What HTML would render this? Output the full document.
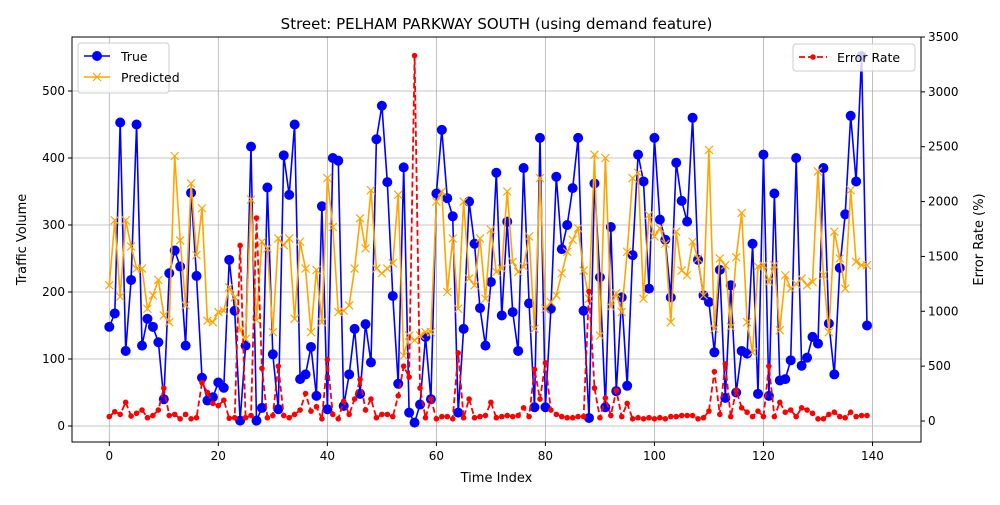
<!DOCTYPE html>
<html><head><meta charset="utf-8"><style>
body{margin:0;background:#fff;font-family:"Liberation Sans","DejaVu Sans",sans-serif;}
svg text{font-family:"DejaVu Sans","Liberation Sans",sans-serif;}
</style></head><body>
<svg id="chart" width="1000" height="500" xmlns="http://www.w3.org/2000/svg"></svg>
<script>
const trueVals=[148,168,453,112,218,450,120,160,148,125,40,228,262,238,120,348,224,72,38,43,65,57,248,172,8,120,417,8,27,356,107,25,404,345,450,70,77,118,45,328,25,400,396,30,77,145,48,152,95,428,478,364,194,63,386,20,5,32,133,40,347,442,340,313,20,145,335,272,176,120,215,378,165,305,170,112,385,183,28,430,28,175,372,264,300,355,430,172,12,362,222,28,297,52,192,60,255,405,365,205,430,308,278,192,393,336,305,460,248,195,185,110,233,42,210,50,112,108,272,48,405,45,347,68,70,98,400,90,102,133,123,385,153,77,236,316,463,365,552,150];
const predVals=[210,307,193,307,268,235,235,175,195,218,165,155,403,277,180,362,255,325,157,155,170,172,207,192,143,130,338,158,275,265,140,280,270,280,160,275,235,140,233,155,370,297,170,172,180,235,310,265,352,235,228,235,243,345,105,135,128,135,140,140,335,350,200,280,175,335,220,210,280,190,293,230,235,350,245,230,238,283,145,370,175,185,195,228,260,278,295,232,190,405,135,400,178,198,170,260,370,378,190,315,283,295,272,155,290,232,225,275,250,195,412,145,250,240,148,252,318,155,110,238,240,215,240,143,225,205,212,220,210,215,380,225,140,290,250,205,352,245,240,240];
const errVals=[40,85,60,170,45,70,100,30,50,100,300,50,60,20,60,20,30,350,260,160,140,190,25,30,1600,30,50,1850,480,30,50,500,50,30,60,100,250,90,130,20,560,60,20,180,60,200,380,100,200,30,60,60,40,230,500,400,3330,300,30,200,20,40,40,20,620,30,200,30,40,50,170,30,40,50,40,50,120,40,470,200,530,100,60,40,30,30,40,40,1180,300,30,210,50,280,40,160,20,30,20,30,20,30,20,40,40,50,50,50,20,30,90,450,60,520,40,280,120,80,40,90,40,500,40,170,80,100,40,120,100,70,20,20,60,80,40,30,80,40,50,50];
const xTicks=[0,20,40,60,80,100,120,140];
const yTicks=[0,100,200,300,400,500];
const y2Ticks=[0,500,1000,1500,2000,2500,3000,3500];

const NS="http://www.w3.org/2000/svg";
const svg=document.getElementById('chart');
const L=72,R=921,T=37,B=442;
const X=v=>109.3+(v)*(R-109.3)/148.9;
const Y=v=>426-v*0.67;
const Y2=v=>421-v*(421-37)/3500;
function mk(tag,attrs,parent){const e=document.createElementNS(NS,tag);for(const k in attrs)e.setAttribute(k,attrs[k]);(parent||svg).appendChild(e);return e;}
function txt(s,attrs){const t=mk('text',attrs);t.textContent=s;return t;}

xTicks.forEach(v=>{const g=mk('line',{x1:X(v),x2:X(v),y1:T,y2:B,stroke:'#b0b0b0','stroke-width':0.8});

});
yTicks.forEach(v=>{const g=mk('line',{x1:L,x2:R,y1:Y(v),y2:Y(v),stroke:'#b0b0b0','stroke-width':0.8});

});

function series(vals,yf,color,opts,name){
  const pts=vals.map((v,i)=>X(i).toFixed(1)+','+yf(v).toFixed(1)).join(' ');
  const pl=mk('polyline',{points:pts,fill:'none',stroke:color,'stroke-width':opts.w,'stroke-dasharray':opts.dash||'none'});
  
  
  vals.forEach((v,i)=>{
    const cx=X(i),cy=yf(v);
    if(opts.marker==='o'){const c=mk('circle',{cx:cx,cy:cy,r:opts.r,fill:color});
      
      }
    else{const s=4;const p=mk('path',{d:`M${cx-s},${cy-s}L${cx+s},${cy+s}M${cx-s},${cy+s}L${cx+s},${cy-s}`,stroke:color,'stroke-width':1.2});
      
      }
  });
}
series(trueVals,Y,'#0000ff',{w:1.6,marker:'o',r:5},'true');
series(predVals,Y,'#ffa500',{w:1.6,marker:'x'},'predicted');
series(errVals,Y2,'#ff0000',{w:1.8,marker:'o',r:2.8,dash:'6,3'},'error-rate');

const fr=mk('rect',{x:L,y:T,width:R-L,height:B-T,fill:'none',stroke:'#000','stroke-width':1});



xTicks.forEach(v=>{mk('line',{x1:X(v),x2:X(v),y1:B,y2:B+4,stroke:'#000'});
const t=txt(v,{x:X(v),y:B+18,'text-anchor':'middle','font-size':12});

});
yTicks.forEach(v=>{mk('line',{x1:L-4,x2:L,y1:Y(v),y2:Y(v),stroke:'#000'});
const t=txt(v,{x:L-7,y:Y(v)+4,'text-anchor':'end','font-size':12});

});
y2Ticks.forEach(v=>{mk('line',{x1:R,x2:R+4,y1:Y2(v),y2:Y2(v),stroke:'#000'});
const t=txt(v,{x:R+7,y:Y2(v)+4,'font-size':12});

});

let t=txt('Street: PELHAM PARKWAY SOUTH (using demand feature)',{x:(L+R)/2,y:29,'text-anchor':'middle','font-size':15});


t=txt('Time Index',{x:(L+R)/2,y:482,'text-anchor':'middle','font-size':13});


t=txt('Traffic Volume',{x:0,y:0,'text-anchor':'middle','font-size':13,transform:`translate(26,${(T+B)/2}) rotate(-90)`});


t=txt('Error Rate (%)',{x:0,y:0,'text-anchor':'middle','font-size':13,transform:`translate(983,${(T+B)/2}) rotate(-90)`});



const lg=mk('rect',{x:78,y:43,width:91,height:50,rx:3,fill:'#fff','fill-opacity':0.8,stroke:'#ccc'});


mk('line',{x1:84,x2:110,y1:56,y2:56,stroke:'#0000ff','stroke-width':1.6});
mk('circle',{cx:97,cy:56,r:5,fill:'#0000ff'});
t=txt('True',{x:121,y:61,'font-size':12.5});


mk('line',{x1:84,x2:110,y1:77,y2:77,stroke:'#ffa500','stroke-width':1.6});
mk('path',{d:'M93,73L101,81M93,81L101,73',stroke:'#ffa500','stroke-width':1.2});
t=txt('Predicted',{x:121,y:82,'font-size':12.5});


const lg2=mk('rect',{x:793,y:44,width:122,height:27,rx:3,fill:'#fff','fill-opacity':0.8,stroke:'#ccc'});


mk('line',{x1:799,x2:827,y1:57,y2:57,stroke:'#ff0000','stroke-width':1.8,'stroke-dasharray':'6,3'});
mk('circle',{cx:813,cy:57,r:2.8,fill:'#ff0000'});
t=txt('Error Rate',{x:837,y:62,'font-size':12.5});


</script>
</body></html>
